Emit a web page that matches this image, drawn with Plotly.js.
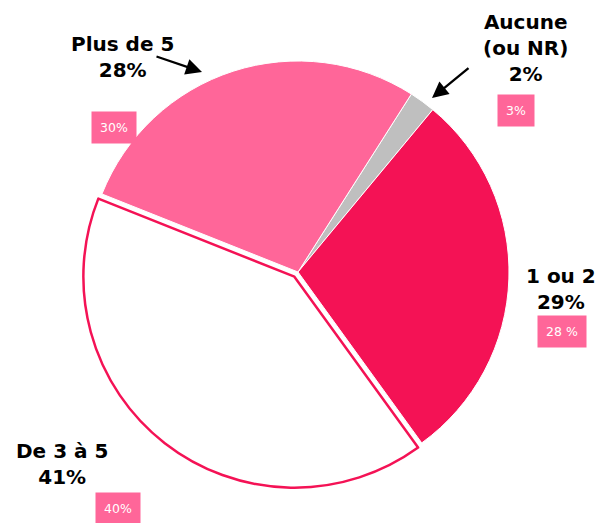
<!DOCTYPE html>
<html>
<head>
<meta charset="utf-8">
<script src="https://cdn.plot.ly/plotly-3.0.1.min.js"></script>
<style>html,body{margin:0;padding:0;background:#fff;}#chart{width:596px;height:523px;}</style>
</head>
<body>
<div id="chart"></div>
<script>
const categories = ["Aucune<br>(ou NR)", "1 ou 2", "De 3 à 5", "Plus de 5"];
const values = [2, 29, 41, 28];
const previousValues = ["3%", "28 %", "40%", "30%"];

const sliceColors = ["#BFBFBF", "#F41255", "#FFFFFF", "#FF6699"];
const lineColors = ["#FFFFFF", "#FFFFFF", "#F41255", "#FFFFFF"];
const lineWidths = [1, 1, 2.5, 1];
const pulls = [0, 0, 0.028, 0];

const labelPos = [[525, 48], [561, 289], [62, 464], [122, 57]];
const boxPos = [[516, 110], [562, 331], [118, 508], [114, 127]];

const W = 596, H = 523;
const px = x => x / W;
const py = y => 1 - y / H;

const annotations = [];
categories.forEach((c, i) => {
  annotations.push({
    xref: 'paper', yref: 'paper', x: px(labelPos[i][0]), y: py(labelPos[i][1]),
    xanchor: 'center', yanchor: 'middle', showarrow: false,
    text: '<b>' + c + '<br>' + values[i] + '%</b>',
    font: {family: 'DejaVu Sans', size: 20, color: '#000'}
  });
  annotations.push({
    xref: 'paper', yref: 'paper', x: px(boxPos[i][0]), y: py(boxPos[i][1]),
    xanchor: 'center', yanchor: 'middle', showarrow: false,
    text: previousValues[i], bgcolor: '#FF6699', borderpad: 8,
    font: {family: 'DejaVu Sans', size: 12.5, color: '#FFFFFF'}
  });
});
// arrows
annotations.push({xref:'paper', yref:'paper', x: px(202), y: py(72), ax: -47, ay: -16, text:'', showarrow:true, arrowhead:2, arrowsize:1.4, arrowwidth:2.3, arrowcolor:'#000'});
annotations.push({xref:'paper', yref:'paper', x: px(432), y: py(98), ax: 38, ay: -31, text:'', showarrow:true, arrowhead:2, arrowsize:1.4, arrowwidth:2.3, arrowcolor:'#000'});

const cx = 298, cy = 272, r = 211, f = r * 1.028;
const data = [{
  type: 'pie',
  labels: categories,
  values: values,
  sort: false,
  direction: 'clockwise',
  rotation: 32.5,
  pull: pulls,
  marker: {colors: sliceColors, line: {color: lineColors, width: lineWidths}},
  textinfo: 'none',
  hoverinfo: 'none',
  showlegend: false,
  domain: {x: [(cx - f) / W, (cx + f) / W], y: [(H - cy - f) / H, (H - cy + f) / H]}
}];

const layout = {
  width: W, height: H,
  margin: {l: 0, r: 0, t: 0, b: 0},
  paper_bgcolor: '#fff',
  showlegend: false,
  annotations: annotations
};
Plotly.newPlot('chart', data, layout, {displayModeBar: false, staticPlot: true});
</script>
</body>
</html>
